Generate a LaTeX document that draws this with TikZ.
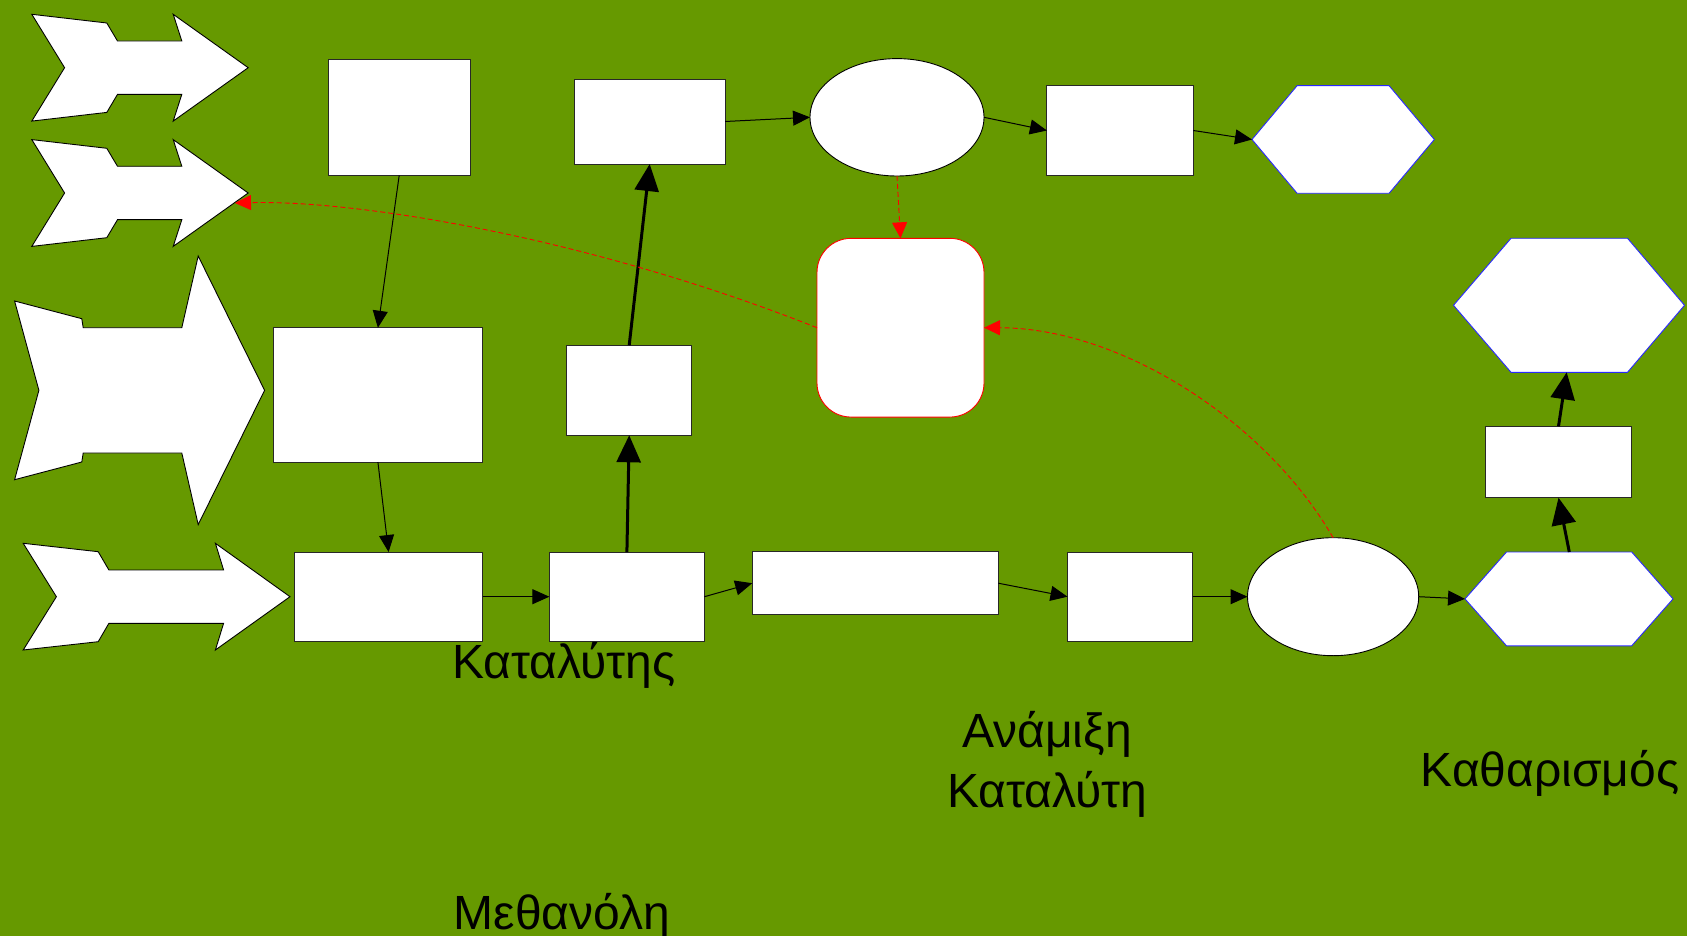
\documentclass[tikz,border=0pt]{standalone}
\usepackage{fontspec}
\setmainfont{Liberation Sans}
\usetikzlibrary{arrows.meta,shapes.geometric}
\definecolor{bggreen}{RGB}{102,153,0}
\definecolor{hexblue}{RGB}{40,40,255}
\definecolor{edgegray}{RGB}{40,40,40}
\begin{document}
\begin{tikzpicture}[x=1pt,y=-1pt,
  box/.style={rectangle, draw=edgegray, fill=white, line width=0.9pt, inner sep=0pt, outer sep=0pt},
  oval/.style={ellipse, draw=black, fill=white, line width=0.9pt, inner sep=0pt, outer sep=0pt},
  rbox/.style={rectangle, rounded corners=34pt, draw=red, fill=white, line width=0.9pt, inner sep=0pt, outer sep=0pt},
  blockarrow/.style={draw=black, fill=white, line width=0.9pt, line join=miter},
  hexa/.style={draw=hexblue, fill=white, line width=0.9pt, line join=miter},
  conn/.style={draw=black, line width=1pt, -{Triangle[length=17pt,width=15pt]}},
  bigconn/.style={draw=black, line width=3pt, -{Triangle[length=27pt,width=24pt]}},
  redconn/.style={draw=red, line width=0.9pt, dash pattern=on 5pt off 3pt, -{Triangle[length=16pt,width=15pt]}},
  lbl/.style={font=\fontsize{48}{57}\selectfont, text=black, inner sep=0pt, anchor=base}
]
\useasboundingbox (0,0) rectangle (1687,936);
\fill[bggreen] (0,0) rectangle (1687,936);

% block arrows
\draw[blockarrow] (31.8,14.3) -- (106.8,23) -- (117.5,41) -- (181.8,41) -- (173.2,14.3) -- (248.2,67.7)
  -- (173.2,121.1) -- (181.8,94.4) -- (117.5,94.4) -- (106.8,112.4) -- (31.8,121.1) -- (64.6,67.7) -- cycle;
\draw[blockarrow] (31.8,139.6) -- (106.8,148.3) -- (117.5,166.3) -- (181.8,166.3) -- (173.2,139.6) -- (248.2,193)
  -- (173.2,246.4) -- (181.8,219.7) -- (117.5,219.7) -- (106.8,237.7) -- (31.8,246.4) -- (64.6,193) -- cycle;
\coordinate (a2t) at (235,203);
\draw[blockarrow] (14.6,301) -- (81.8,318.7) -- (83.2,327.7) -- (181.8,327.7) -- (198.2,256) -- (264.6,390.3)
  -- (198.2,524.6) -- (181.8,453) -- (83.2,453) -- (81.8,462) -- (14.6,479.7) -- (38.9,390.3) -- cycle;
\draw[blockarrow] (23.2,543.3) -- (98.2,551.7) -- (108.9,570) -- (223.6,570) -- (215.4,543.3) -- (290,596.7)
  -- (215.4,650) -- (223.6,623.3) -- (108.9,623.3) -- (98.2,641.7) -- (23.2,650) -- (56.4,596.7) -- cycle;

% hexagons
\draw[hexa] (1252,139.5) -- (1297.1,85.7) -- (1389.1,85.7) -- (1434.3,139.5) -- (1389.1,193.3) -- (1297.1,193.3) -- cycle;
\coordinate (h1w) at (1252,139.5);
\draw[hexa] (1453.5,305.3) -- (1511,238.3) -- (1627.5,238.3) -- (1684.5,305.3) -- (1627.5,372.3) -- (1511,372.3) -- cycle;
\coordinate (h2bot) at (1566.7,372.3);
\draw[hexa] (1465,598.9) -- (1506.5,552) -- (1631.7,552) -- (1673,598.9) -- (1631.7,645.8) -- (1506.5,645.8) -- cycle;
\coordinate (h3w) at (1465,598.9);
\coordinate (h3top) at (1569.3,552);

% boxes
\node[box, minimum width=142.5pt, minimum height=116.3pt] (b1) at (399.2,117.2) {};
\node[box, minimum width=209.3pt, minimum height=134.3pt] (b2) at (377.9,394.9) {};
\node[box, minimum width=187.9pt, minimum height=89.3pt] (b3) at (388.6,596.7) {};
\node[box, minimum width=155.1pt, minimum height=89.3pt] (b4) at (626.9,596.7) {};
\node[box, minimum width=150.7pt, minimum height=85pt] (b5) at (649.7,121.5) {};
\node[box, minimum width=125pt, minimum height=90pt] (b6) at (629.2,390.3) {};
\node[oval, minimum width=174pt, minimum height=117.4pt] (e1) at (897,117.3) {};
\node[rbox, minimum width=167pt, minimum height=178.7pt] (r1) at (900.5,327.7) {};
\node[box, minimum width=146.4pt, minimum height=89.6pt] (b7) at (1120.1,130.5) {};
\node[box, minimum width=246.1pt, minimum height=63pt] (b8) at (875.25,583.2) {};
\node[box, minimum width=125.3pt, minimum height=89.3pt] (b9) at (1130.15,596.7) {};
\node[oval, minimum width=171.2pt, minimum height=118pt] (e2) at (1333.1,596.7) {};
\node[box, minimum width=146.4pt, minimum height=71.4pt] (b10) at (1558.5,462) {};

% connectors
\draw[conn] (b1.south) -- (b2.north);
\draw[conn] (b2.south) -- (b3.north);
\draw[conn] (b3.east) -- (b4.west);
\draw[conn] (b4.east) -- (b8.west);
\draw[conn] (b8.east) -- (b9.west);
\draw[conn] (b9.east) -- (e2.west);
\draw[conn] (e2.east) -- (h3w);
\draw[conn] (b5.east) -- (e1.west);
\draw[conn] (e1.east) -- (b7.west);
\draw[conn] (b7.east) -- (h1w);
\draw[bigconn] (b4.north) -- (b6.south);
\draw[bigconn] (b6.north) -- (b5.south);
\draw[bigconn] (h3top) -- (b10.south);
\draw[bigconn] (b10.north) -- (h2bot);
\draw[redconn] (e1.south) -- (r1.north);
\draw[redconn] (r1.west) .. controls (590,238) and (360,200) .. (a2t);
\draw[redconn] (e2.north) .. controls (1265,420) and (1120,328) .. (r1.east);

% labels
\node[lbl] (t1) at (564,678) {Καταλύτης};
\node[lbl] (t2) at (1047,747) {Ανάμιξη};
\node[lbl] (t3) at (1047,807) {Καταλύτη};
\node[lbl] (t4) at (1550,786) {Καθαρισμός};
\node[lbl] (t5) at (562,929) {Μεθανόλη};
\end{tikzpicture}
\end{document}
